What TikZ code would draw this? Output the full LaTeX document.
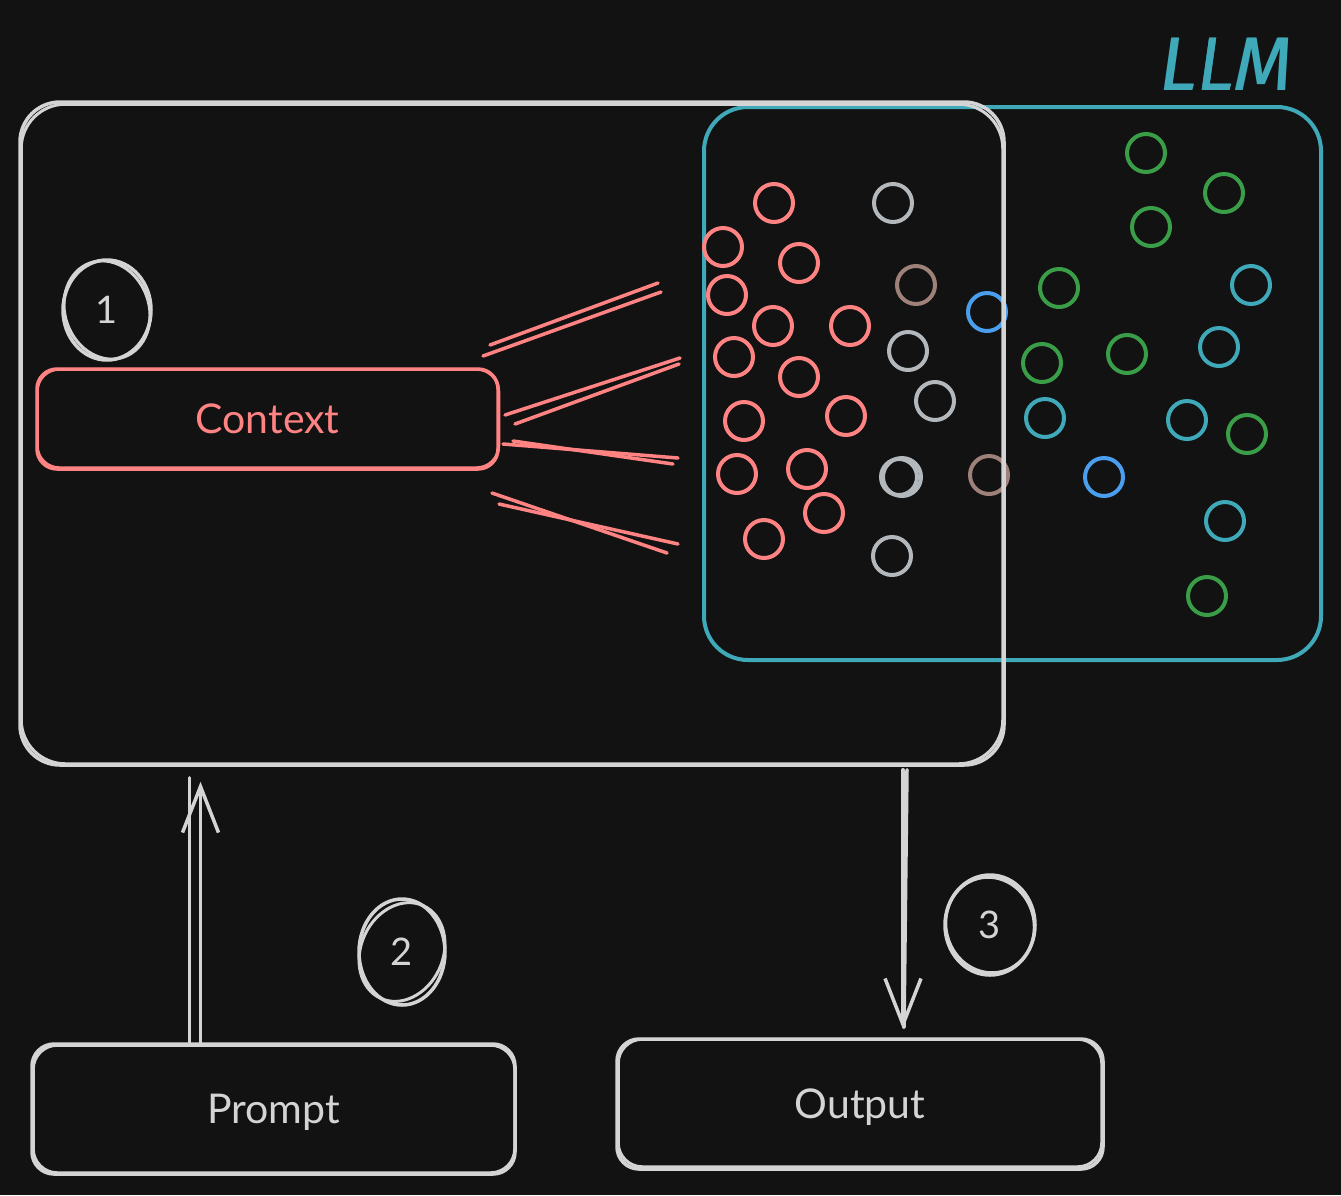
\documentclass[tikz,border=0pt]{standalone}
\usepackage{fontspec}
\setmainfont{Lato}
\newfontfamily\handfont{Fira Sans}
\usetikzlibrary{arrows.meta,calc,shapes.geometric}
\definecolor{bgc}{HTML}{121212}
\definecolor{wc}{HTML}{D4D4D4}
\definecolor{redc}{HTML}{FF8383}
\definecolor{llmc}{HTML}{3FA9B9}
\definecolor{greenc}{HTML}{3A9E48}
\definecolor{bluec}{HTML}{4A9EED}
\definecolor{grayc}{HTML}{B3B8BD}
\definecolor{brownc}{HTML}{9E8279}
\begin{document}
\begin{tikzpicture}[x=1pt,y=-1pt,line cap=round,line join=round,
  wline/.style={draw=wc,line width=3.5pt},
  boxw/.style={wline,rounded corners=22pt,inner sep=0pt,text=wc,font=\fontsize{41}{43}\selectfont},
  numc/.style={wline,ellipse,inner sep=0pt,text=wc,font=\fontsize{38}{40}\selectfont},
  ray/.style={draw=redc,line width=3.5pt},
  dot/.style={line width=4pt},
  dred/.style={dot,draw=redc},
  dgray/.style={dot,draw=grayc},
  dbrown/.style={dot,draw=brownc},
  dblue/.style={dot,draw=bluec},
  dgreen/.style={dot,draw=greenc},
  dcyan/.style={dot,draw=llmc}]
\fill[bgc] (0,0) rectangle (1341,1195);
\useasboundingbox (0,0) rectangle (1341,1195);

% LLM box
\node[draw=llmc,line width=4pt,rounded corners=44pt,minimum width=617pt,minimum height=553pt,inner sep=0pt] (llm) at (1012.5,383.5) {};
\node[text=llmc,font=\handfont\itshape\fontsize{76}{76}\selectfont] (llmlabel) at (1226,64) {LLM};
\node[text=llmc,font=\handfont\itshape\fontsize{76}{76}\selectfont] (llmlabelb) at (1226.8,64.4) {LLM};

% dots
\foreach \x/\y in {774/203,723/247,799/263,727/295,773/326,850/326,734/357,799/377,744/421,846/416,737/474,807/469,824/513,764/539}
  \draw[dred] (\x,\y) circle[radius=19pt];
\foreach \x/\y in {893/203,908/351,935/401,902/477,892/556}
  \draw[dgray] (\x,\y) circle[radius=19pt];
\draw[dgray] (899,477) circle[radius=18pt];
\foreach \x/\y in {916/285,989/475}
  \draw[dbrown] (\x,\y) circle[radius=19pt];
\foreach \x/\y in {987/312,1104/477}
  \draw[dblue] (\x,\y) circle[radius=19pt];
\foreach \x/\y in {1146/153,1224/193,1151/227,1059/288,1042/363,1127/354,1247/434,1207/596}
  \draw[dgreen] (\x,\y) circle[radius=19pt];
\foreach \x/\y in {1251/285,1219/347,1045/418,1187/420,1225/521}
  \draw[dcyan] (\x,\y) circle[radius=19pt];

% context
\node[draw=redc,line width=3.5pt,rounded corners=20pt,minimum width=461pt,minimum height=100pt,inner sep=0pt,text=redc,font=\fontsize{41}{43}\selectfont] (context) at (267.5,419) {Context};
\draw[draw=redc,line width=3pt,rounded corners=22pt] ($(context.south west)+(2,-3)$) rectangle ($(context.north east)+(-1,2)$);

% rays
\foreach \a/\b/\c/\d [count=\i] in {490/345/658/283, 483/356/661/292, 505/415/680/358, 515/424/679/364, 503/444/678/458, 513/441/673/464, 492/493/667/553, 499/504/678/544}{
  \coordinate (rs\i) at (\a,\b);
  \coordinate (re\i) at (\c,\d);
  \draw[ray] (rs\i) -- (re\i);
}

% main box
\node[wline,rounded corners=40pt,minimum width=984pt,minimum height=663pt,inner sep=0pt] (main) at (512,433.5) {};
\draw[wline,line width=3pt,rounded corners=44pt] ($(main.south west)+(3,-3)$) rectangle ($(main.north east)+(-3,4)$);

% number markers
\node[numc,minimum width=88pt,minimum height=100pt] (n1) at (107,310) {1};
\draw[wline,line width=3pt,rotate around={20:(n1.center)}] (n1.center) ellipse[x radius=42pt,y radius=50pt];
\node[numc,minimum width=86pt,minimum height=106pt] (n2) at (402,952) {2};
\draw[wline,line width=3pt,rotate around={-25:(n2.center)}] (n2.center) ellipse[x radius=41pt,y radius=51pt];
\node[numc,minimum width=90pt,minimum height=100pt] (n3) at (990,925) {3};
\draw[wline,line width=3pt,rotate around={15:(n3.center)}] (n3.center) ellipse[x radius=44pt,y radius=48pt];

% bottom boxes
\node[boxw,minimum width=483pt,minimum height=130pt] (prompt) at (273.5,1109) {\raisebox{-14.5pt}[0pt][0pt]{Prompt}};
\draw[wline,line width=3pt,rounded corners=24pt] ($(prompt.south west)+(3,-3)$) rectangle ($(prompt.north east)+(-2,3)$);
\node[boxw,minimum width=486pt,minimum height=130pt] (output) at (860,1104) {\raisebox{-14.5pt}[0pt][0pt]{Output}};
\draw[wline,line width=3pt,rounded corners=24pt] ($(output.south west)+(3,-4)$) rectangle ($(output.north east)+(-3,2)$);

% arrows
\coordinate (upS) at ($(prompt.north)+(-73,0)$);
\coordinate (upE) at ($(main.south -| upS)+(0,15)$);
\draw[wline,-{Straight Barb[length=46pt,width=36pt,line width=3.5pt]}] (upS) -- (upE);
\draw[wline] ($(upS)+(-11,0)$) -- ($(upE)+(-11,-4)$);
\coordinate (dnS) at ($(main.south)+(391,3)$);
\coordinate (dnE) at ($(output.north -| dnS)+(0,-8)$);
\draw[wline,-{Straight Barb[length=46pt,width=36pt,line width=3.5pt]}] (dnS) -- (dnE);
\draw[wline] ($(dnS)+(4,0)$) -- ($(dnE)+(1,-2)$);
\end{tikzpicture}
\end{document}
